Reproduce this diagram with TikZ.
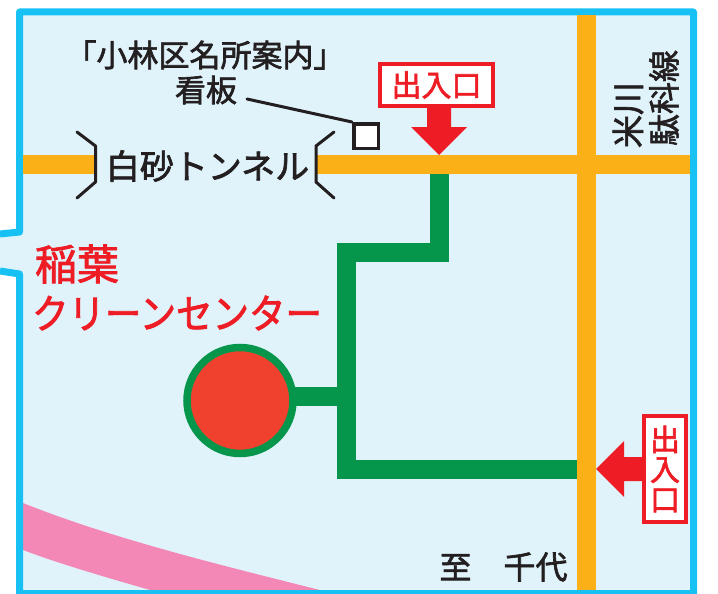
\documentclass[tikz,border=0pt]{standalone}
\usepackage{graphicx}
\usepackage{fontspec}
\setmainfont{Noto Sans CJK JP}[FakeBold=2]
\definecolor{sky}{HTML}{E0F3FB}
\definecolor{frameblue}{HTML}{17C1F4}
\definecolor{road}{HTML}{FBB017}
\definecolor{route}{HTML}{06964B}
\definecolor{pinkband}{HTML}{F388B6}
\definecolor{marker}{HTML}{F0412E}
\definecolor{signred}{HTML}{EE1C25}
\definecolor{inkblack}{HTML}{231F20}
\newcommand{\fs}[1]{\fontsize{#1}{#1}\selectfont}
\tikzset{
  roadline/.style={road,line width=19pt},
  routeline/.style={route,line width=19pt,line join=miter},
  blacktext/.style={text=inkblack,inner sep=0pt},
  redtext/.style={text=signred,inner sep=0pt},
  signbox/.style={draw=signred,line width=4pt,fill=white,inner sep=0pt,text=signred},
  tunnel/.style={inkblack,line width=3pt,line cap=round,line join=round},
  entry/.style={fill=signred,draw=none}
}
\begin{document}
\begin{tikzpicture}[x=1pt,y=-1pt]
\useasboundingbox (0,0) rectangle (718,594);
\fill[white] (0,0) rectangle (718,594);
% map ground with notch
\fill[sky] (0,234) -- (19.5,232) -- (19.5,12) -- (693.5,12) -- (693.5,594) -- (19.5,594) -- (19.5,274) -- (0,271) -- cycle;
% pink band
\begin{scope}
\clip (23,15) rectangle (690,590);
\fill[pinkband] (23,503) .. controls (110,538) and (220,565) .. (320,590)
   -- (150,590) .. controls (105,577) and (60,564) .. (23,550) -- cycle;
\end{scope}
% frame
\draw[frameblue,line width=7pt,line join=round] (0,234) -- (19.5,232) -- (19.5,12) -- (693.5,12) -- (693.5,593.5) -- (19.5,593.5) -- (19.5,274) -- (0,271);
% coordinates
\coordinate (wL) at (23,164.5);
\coordinate (wR) at (95,164.5);
\coordinate (eL) at (316,164.5);
\coordinate (eR) at (690,164.5);
\coordinate (nV) at (586.5,15);
\coordinate (sV) at (586.5,590);
% green route
\draw[routeline] (439.5,174) -- (439.5,252) -- (346.5,252) -- (346.5,469) -- (577,469);
\node[circle,draw=route,fill=marker,line width=7.5pt,minimum size=106pt,inner sep=0pt] (plant) at (240,400.5) {};
\coordinate (junction) at (346.5,396);
\draw[routeline] (plant.east |- junction) ++(-3,0) -- (junction);
% roads
\draw[roadline] (wL) -- (wR);
\draw[roadline] (eL) -- (eR);
\draw[roadline] (nV) -- (sV);
% tunnel brackets
\draw[tunnel] (77,132) -- (95.5,146) -- (95.5,182) -- (77,198);
\draw[tunnel] (334,132) -- (316,146) -- (316,182) -- (334,198);
\node[blacktext] (tunnelname) at (207.5,166) {\fs{34}白砂トンネル};
% sign
\node[blacktext] (signa) at (205,55) {\fs{31}「小林区名所案内」};
\node[blacktext] (signb) at (206,90) {\fs{31}看板};
\node[draw=inkblack,fill=white,line width=3.5pt,minimum size=24.5pt,inner sep=0pt] (board) at (366,136) {};
\coordinate (leader) at (247,99);
\draw[inkblack,line width=3pt,line cap=round] (leader) -- (board.north west);
% centre name
\node[redtext] (nameA) at (77,264) {\fs{42}稲葉};
\node[redtext] (nameB) at (177,313) {\scalebox{0.9}[1]{\fs{40.5}クリーンセンター}};
% north entrance
\fill[entry] (427,105) -- (451,105) -- (451,127) -- (467,127) -- (439,155) -- (411,127) -- (427,127) -- cycle;
\node[signbox,minimum width=113pt,minimum height=42pt] (entryN) at (436.5,85) {\fs{30}出入口};
% east entrance
\fill[entry] (645,457) -- (645,481) -- (624,481) -- (624,497) -- (596,469) -- (624,441) -- (624,457) -- cycle;
\node[signbox,minimum width=42pt,minimum height=106pt,align=center,font=\fs{30}] (entryE) at (665,469) {出\\入\\口};
% labels
\node[blacktext] (dest) at (503.5,567) {\fs{32}至\hspace{32pt}千代};
\node[blacktext,rotate=90] (lineA) at (628,115) {\fs{33}米川};
\node[blacktext,rotate=90] (lineB) at (664,98) {\fs{32}駄科線};
\end{tikzpicture}
\end{document}
